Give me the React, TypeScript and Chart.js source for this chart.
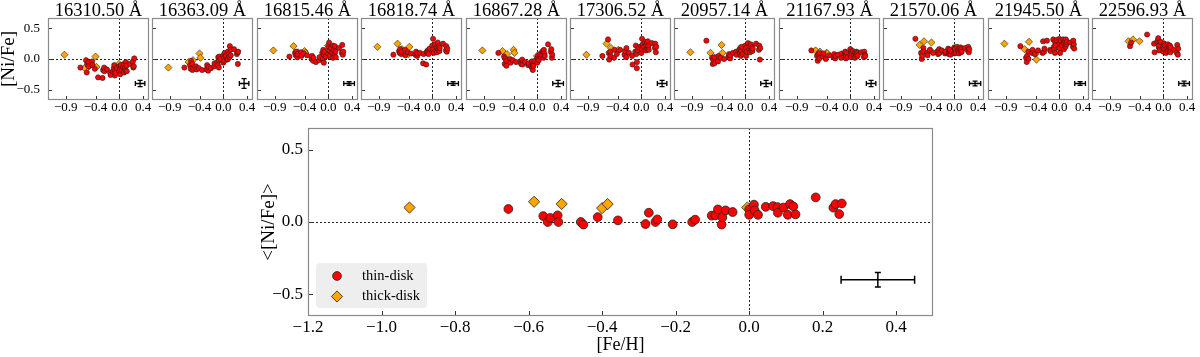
import React, { useEffect, useRef } from 'react';
import { Chart, registerables } from 'chart.js';

Chart.register(...registerables);

const SERIF = '"Liberation Serif", "Times New Roman", Times, serif';

// ---------------- data ----------------
const lineTitles = [
  '16310.50 Å', '16363.09 Å', '16815.46 Å', '16818.74 Å', '16867.28 Å', '17306.52 Å',
  '20957.14 Å', '21167.93 Å', '21570.06 Å', '21945.50 Å', '22596.93 Å',
];

// [Fe/H] of the thin-disk and thick-disk stars
const thinFeH = [
  -0.655, -0.56, -0.548, -0.541, -0.521, -0.519, -0.458, -0.451, -0.412, -0.357,
  -0.282, -0.273, -0.255, -0.25, -0.208, -0.155, -0.147, -0.102, -0.092, -0.085,
  -0.075, -0.073, -0.064, -0.045, 0.0, 0.0, 0.013, 0.015, 0.024, 0.045,
  0.065, 0.077, 0.078, 0.093, 0.105, 0.111, 0.12, 0.126, 0.181, 0.229,
  0.235, 0.245, 0.252,
];
const thickFeH = [-0.924, -0.585, -0.51, -0.4, -0.385, -0.005];

// mean <[Ni/Fe]>
const thinMeanNiFe = [
  0.09, 0.041, 0.0, 0.028, 0.046, 0.0, 0.0, -0.018, 0.034, 0.011,
  -0.014, 0.064, 0.0, 0.018, -0.016, 0.0, 0.016, 0.044, 0.046, 0.087,
  -0.018, 0.032, 0.08, 0.069, 0.087, 0.05, 0.12, 0.08, 0.05, 0.105,
  0.11, 0.103, 0.064, 0.1, 0.05, 0.124, 0.108, 0.053, 0.17, 0.099,
  0.124, 0.055, 0.128,
];
const thickMeanNiFe = [0.1, 0.14, 0.125, 0.096, 0.124, 0.1];

// per-line [Ni/Fe]
const thin16310 = [
  -0.14, -0.02, -0.22, -0.08, -0.05, -0.12, -0.04, -0.1, -0.16, -0.3,
  -0.31, -0.18, -0.14, -0.2, -0.17, -0.22, -0.26, -0.2, -0.15, -0.1,
  -0.27, -0.19, -0.23, -0.15, -0.2, -0.12, -0.17, -0.25, -0.1, -0.18,
  -0.13, -0.22, -0.08, -0.15, -0.19, -0.05, -0.11, -0.2, -0.08, -0.04,
  -0.14, -0.12, 0.01,
];
const thick16310 = [0.07, -0.15, -0.12, 0.04, -0.13, -0.08];

const thin16363 = [
  -0.14, -0.1, -0.16, -0.03, -0.08, -0.18, -0.12, -0.17, -0.15, -0.18,
  -0.17, -0.1, -0.19, -0.13, -0.15, -0.12, -0.07, -0.05, -0.1, 0.03,
  -0.14, -0.02, 0.04, 0.0, -0.06, 0.06, 0.02, -0.03, 0.1, 0.05,
  -0.01, 0.12, 0.0, 0.08, 0.03, 0.21, 0.15, 0.06, 0.16, 0.08,
  0.11, -0.08, 0.12,
];
const thick16363 = [-0.14, -0.05, -0.02, 0.09, 0.02, 0.0];

const thin16815 = [
  0.04, 0.1, 0.06, 0.12, 0.03, 0.08, 0.11, 0.05, 0.09, 0.06,
  0.0, 0.05, -0.03, 0.02, -0.05, -0.02, 0.03, 0.1, 0.0, 0.15,
  -0.06, 0.07, 0.12, 0.04, 0.2, 0.09, 0.27, 0.14, 0.05, 0.18,
  0.1, 0.22, 0.02, 0.15, 0.08, 0.21, 0.12, 0.03, 0.18, 0.1,
  0.23, 0.07, 0.12,
];
const thick16815 = [0.14, 0.21, 0.11, 0.13, 0.1, 0.22];

const thin16818 = [
  0.07, 0.13, 0.1, 0.16, 0.08, 0.12, 0.15, 0.06, 0.11, 0.09,
  0.07, 0.12, 0.05, 0.09, 0.1, -0.07, 0.08, -0.09, 0.12, 0.1,
  0.14, 0.11, 0.08, 0.17, 0.22, 0.12, 0.33, 0.16, 0.1, 0.24,
  0.14, 0.19, 0.11, 0.27, 0.15, 0.21, 0.13, 0.18, 0.25, 0.14,
  0.21, 0.12, 0.17,
];
const thick16818 = [0.2, 0.25, 0.16, 0.08, 0.2, 0.18];

const thin16867 = [
  0.1, 0.04, -0.08, 0.01, -0.03, -0.11, 0.0, -0.06, -0.02, -0.05,
  -0.04, -0.08, -0.01, -0.09, -0.05, -0.1, -0.07, -0.12, -0.04, -0.15,
  -0.18, -0.08, -0.11, -0.03, 0.02, -0.06, 0.05, 0.0, -0.02, 0.08,
  0.03, 0.11, 0.06, 0.13, 0.02, 0.15, 0.09, 0.05, 0.24, 0.12,
  0.16, 0.02, 0.07,
];
const thick16867 = [0.14, 0.13, 0.08, 0.15, 0.1, 0.05];

const thin17306 = [
  0.05, 0.32, 0.1, -0.01, 0.05, 0.12, 0.02, 0.15, 0.08, 0.15,
  0.07, 0.13, 0.03, 0.18, 0.1, 0.05, -0.09, 0.12, 0.22, 0.08,
  -0.15, -0.05, 0.14, 0.19, 0.21, 0.1, 0.33, 0.16, 0.24, 0.2,
  0.28, 0.14, 0.22, 0.26, 0.17, 0.29, 0.21, 0.15, 0.26, 0.18,
  0.25, 0.11, 0.2,
];
const thick17306 = [0.07, 0.25, 0.18, 0.13, 0.15, 0.2];

const thin20957 = [
  0.3, 0.02, -0.08, -0.01, 0.03, -0.07, -0.04, 0.05, 0.02, 0.0,
  0.04, 0.08, 0.01, 0.06, 0.1, 0.12, 0.07, 0.15, 0.1, 0.18,
  0.05, 0.13, 0.2, 0.08, 0.22, 0.14, 0.18, 0.05, 0.12, 0.26,
  0.16, 0.21, 0.11, 0.24, 0.14, 0.19, 0.13, 0.17, 0.25, 0.15,
  0.22, -0.01, 0.18,
];
const thick20957 = [0.11, 0.1, 0.0, 0.23, 0.1, 0.15];

const thin21167 = [
  0.14, 0.05, -0.03, 0.08, 0.01, 0.1, 0.04, 0.09, 0.0, 0.06,
  0.03, 0.08, 0.01, 0.05, 0.07, 0.02, 0.09, 0.04, 0.08, 0.12,
  0.01, 0.06, 0.1, 0.03, 0.16, 0.07, 0.12, 0.03, 0.09, 0.13,
  0.05, 0.1, 0.02, 0.08, 0.12, 0.04, 0.1, 0.06, 0.11, 0.03,
  0.12, 0.07, 0.05,
];
const thick21167 = [null, 0.14, 0.12, 0.1, 0.09, 0.08];

const thin21570 = [
  0.33, 0.1, 0.0, 0.05, 0.18, 0.12, 0.1, 0.06, 0.15, 0.1,
  0.13, 0.08, 0.16, 0.1, 0.14, 0.09, 0.12, 0.17, 0.08, 0.13,
  0.1, 0.15, 0.07, 0.12, 0.19, 0.09, 0.14, 0.17, 0.1, 0.2,
  0.13, 0.17, 0.09, 0.15, 0.19, 0.11, 0.16, 0.12, 0.18, 0.14,
  0.2, 0.11, 0.16,
];
const thick21570 = [null, 0.23, 0.29, 0.14, 0.27, 0.16];

const thin21945 = [
  0.21, 0.02, -0.05, 0.05, 0.12, 0.0, 0.1, 0.15, 0.08, 0.14,
  0.1, 0.29, 0.12, 0.17, 0.3, 0.15, 0.13, 0.32, 0.2, 0.16,
  0.28, 0.1, 0.22, 0.31, 0.33, 0.18, 0.25, 0.1, 0.3, 0.22,
  0.32, 0.16, 0.26, 0.29, 0.2, 0.32, 0.24, 0.28, 0.27, 0.2,
  0.3, 0.24, 0.17,
];
const thick21945 = [0.25, 0.16, 0.28, 0.08, -0.01, 0.12];

const thin22596 = [
  null, 0.21, null, 0.27, null, null, null, null, null, null,
  null, 0.4, null, null, null, 0.25, 0.11, 0.28, 0.3, 0.34,
  0.19, 0.22, 0.14, 0.28, 0.2, 0.12, 0.25, 0.17, 0.22, 0.1,
  0.18, 0.24, 0.13, 0.2, 0.15, 0.22, 0.11, 0.19, 0.15, 0.1,
  0.23, 0.07, 0.17,
];
const thick22596 = [null, 0.29, 0.32, 0.29, null, 0.26];

const thinPerLine = [thin16310, thin16363, thin16815, thin16818, thin16867, thin17306, thin20957, thin21167, thin21570, thin21945, thin22596];
const thickPerLine = [thick16310, thick16363, thick16815, thick16818, thick16867, thick17306, thick20957, thick21167, thick21570, thick21945, thick22596];

// typical error bars
const errCenter = [0.35, -0.4];
const errXPerLine = [0.08, 0.08, 0.09, 0.09, 0.09, 0.08, 0.09, 0.08, 0.095, 0.09, 0.09];
const errYPerLine = [0.05, 0.08, 0.03, 0.03, 0.05, 0.05, 0.05, 0.05, 0.04, 0.03, 0.04];
const errMean = [0.1, 0.05];

// ticks
const topXTicks = [-0.9, -0.4, 0.0, 0.4];
const topYTicks = [-0.5, 0.0, 0.5];
const mainXTicks = [-1.2, -1.0, -0.8, -0.6, -0.4, -0.2, 0.0, 0.2, 0.4];
const mainYTicks = [-0.5, 0.0, 0.5];

const legendLabels = ['thin-disk', 'thick-disk'];
const THIN_COLOR = '#ff0000';
const THICK_COLOR = '#ffa500';

// ---------------- helpers ----------------
function fmt(v: number): string {
  const s = Number(v).toFixed(1);
  if (s === '-0.0') return '0.0';
  return s.replace('-', '\u2212');
}

function pts(xs: number[], ys: (number | null)[]) {
  const out: { x: number; y: number }[] = [];
  xs.forEach((x, i) => {
    const y = ys[i];
    if (y !== null && y !== undefined) out.push({ x, y });
  });
  return out;
}

type Spec = {
  cx: number; cy: number; cw: number; ch: number;
  padLeft: number; padRight: number; padTop: number;
  yW: number; xH: number;
  xMin: number; xMax: number; yMin: number; yMax: number;
  xTicks: number[]; yTicks: number[];
  showY: boolean;
  tickSize: number; xTickPad: number; yTickPad: number;
  xTitle?: string; xTitleSize?: number; xTitlePad?: number;
  yTitle?: string; yTitleSize?: number; yTitlePad?: number;
  thin: { x: number; y: number }[];
  thick: { x: number; y: number }[];
  circleR: number; diamondR: number; borderW: number;
  err: { ex: number; ey: number; capX: number; capY: number; lw: number };
  title?: string;
  legend?: boolean;
  tickLen: number;
};

const specs: Spec[] = [];

for (let i = 0; i < 11; i++) {
  const panelLeft = Math.round(48 + i * 104.4);
  specs.push({
    cx: panelLeft - 48, cy: 0, cw: 165, ch: 122,
    padLeft: i === 0 ? 0 : 48, padRight: 16, padTop: 18,
    yW: i === 0 ? 48 : 0, xH: 22,
    xMin: -1.2, xMax: 0.5, yMin: -0.67, yMax: 0.67,
    xTicks: topXTicks, yTicks: topYTicks,
    showY: i === 0,
    tickSize: 13, xTickPad: 0, yTickPad: 8,
    yTitle: i === 0 ? '[Ni/Fe]' : undefined, yTitleSize: 19, yTitlePad: 0,
    thin: pts(thinFeH, thinPerLine[i]),
    thick: pts(thickFeH, thickPerLine[i]),
    circleR: 2.6, diamondR: 3.6, borderW: 0.6,
    err: { ex: errXPerLine[i], ey: errYPerLine[i], capX: 2.5, capY: 2.5, lw: 1.3 },
    title: lineTitles[i],
    tickLen: 4,
  });
}

specs.push({
  cx: 240, cy: 120, cw: 720, ch: 237,
  padLeft: 0, padRight: 27, padTop: 8,
  yW: 68, xH: 41,
  xMin: -1.2, xMax: 0.5, yMin: -0.65, yMax: 0.65,
  xTicks: mainXTicks, yTicks: mainYTicks,
  showY: true,
  tickSize: 17, xTickPad: 1, yTickPad: 5,
  xTitle: '[Fe/H]', xTitleSize: 18, xTitlePad: 3,
  yTitle: '<[Ni/Fe]>', yTitleSize: 19, yTitlePad: 20,
  thin: pts(thinFeH, thinMeanNiFe),
  thick: pts(thickFeH, thickMeanNiFe),
  circleR: 4.4, diamondR: 5.6, borderW: 0.8,
  err: { ex: errMean[0], ey: errMean[1], capX: 4, capY: 3, lw: 1.5 },
  legend: true,
  tickLen: 5,
});

function makeChart(canvas: HTMLCanvasElement, s: Spec) {
  const decor = {
    id: 'decor',
    beforeDatasetsDraw(chart: any) {
      const { ctx, chartArea: a, scales } = chart;
      const x0 = Math.round(scales.x.getPixelForValue(0)) + 0.5;
      const y0 = Math.round(scales.y.getPixelForValue(0)) + 0.5;
      ctx.save();
      ctx.strokeStyle = '#222';
      ctx.lineWidth = 1;
      ctx.setLineDash([2, 2]);
      ctx.beginPath();
      ctx.moveTo(x0, a.top);
      ctx.lineTo(x0, a.bottom);
      ctx.moveTo(a.left, y0);
      ctx.lineTo(a.right, y0);
      ctx.stroke();
      ctx.restore();
    },
    afterDatasetsDraw(chart: any) {
      const { ctx, chartArea: a, scales } = chart;
      const xs = scales.x, ys = scales.y;
      ctx.save();
      // error bar
      const cx = xs.getPixelForValue(errCenter[0]);
      const cy = ys.getPixelForValue(errCenter[1]);
      const xl = xs.getPixelForValue(errCenter[0] - s.err.ex);
      const xr = xs.getPixelForValue(errCenter[0] + s.err.ex);
      const yt = ys.getPixelForValue(errCenter[1] + s.err.ey);
      const yb = ys.getPixelForValue(errCenter[1] - s.err.ey);
      ctx.strokeStyle = '#000';
      ctx.lineWidth = s.err.lw;
      ctx.beginPath();
      ctx.moveTo(xl, cy); ctx.lineTo(xr, cy);
      ctx.moveTo(cx, yt); ctx.lineTo(cx, yb);
      ctx.moveTo(xl, cy - s.err.capX); ctx.lineTo(xl, cy + s.err.capX);
      ctx.moveTo(xr, cy - s.err.capX); ctx.lineTo(xr, cy + s.err.capX);
      ctx.moveTo(cx - s.err.capY, yt); ctx.lineTo(cx + s.err.capY, yt);
      ctx.moveTo(cx - s.err.capY, yb); ctx.lineTo(cx + s.err.capY, yb);
      ctx.stroke();

      // inward ticks
      ctx.strokeStyle = '#333';
      ctx.lineWidth = 1;
      ctx.beginPath();
      s.xTicks.forEach((v) => {
        const px = Math.round(xs.getPixelForValue(v)) + 0.5;
        ctx.moveTo(px, a.bottom);
        ctx.lineTo(px, a.bottom - s.tickLen);
      });
      s.yTicks.forEach((v) => {
        const py = Math.round(ys.getPixelForValue(v)) + 0.5;
        ctx.moveTo(a.left, py);
        ctx.lineTo(a.left + s.tickLen, py);
      });
      ctx.stroke();

      // frame
      ctx.strokeStyle = '#8a8a8a';
      ctx.lineWidth = 1.2;
      ctx.strokeRect(a.left + 0.5, a.top + 0.5, a.right - a.left - 1, a.bottom - a.top - 1);

      // panel title
      if (s.title) {
        ctx.fillStyle = '#000';
        ctx.font = `18.5px ${SERIF}`;
        ctx.textAlign = 'center';
        ctx.textBaseline = 'alphabetic';
        ctx.fillText(s.title, (a.left + a.right) / 2, a.top - 2);
      }

      // legend
      if (s.legend) {
        const lx = a.left + 8, lw = 111, lh = 45;
        const ly = a.bottom - 8 - lh;
        ctx.fillStyle = 'rgba(236,236,236,0.9)';
        ctx.beginPath();
        const r = 4;
        ctx.moveTo(lx + r, ly);
        ctx.lineTo(lx + lw - r, ly);
        ctx.quadraticCurveTo(lx + lw, ly, lx + lw, ly + r);
        ctx.lineTo(lx + lw, ly + lh - r);
        ctx.quadraticCurveTo(lx + lw, ly + lh, lx + lw - r, ly + lh);
        ctx.lineTo(lx + r, ly + lh);
        ctx.quadraticCurveTo(lx, ly + lh, lx, ly + lh - r);
        ctx.lineTo(lx, ly + r);
        ctx.quadraticCurveTo(lx, ly, lx + r, ly);
        ctx.closePath();
        ctx.fill();
        const mx = lx + 21;
        const my1 = ly + 13, my2 = ly + 33.5;
        ctx.lineWidth = s.borderW;
        ctx.strokeStyle = '#222';
        ctx.fillStyle = THIN_COLOR;
        ctx.beginPath();
        ctx.arc(mx, my1, s.circleR, 0, Math.PI * 2);
        ctx.fill();
        ctx.stroke();
        ctx.fillStyle = THICK_COLOR;
        const d = s.diamondR;
        ctx.beginPath();
        ctx.moveTo(mx, my2 - d);
        ctx.lineTo(mx + d, my2);
        ctx.lineTo(mx, my2 + d);
        ctx.lineTo(mx - d, my2);
        ctx.closePath();
        ctx.fill();
        ctx.stroke();
        ctx.fillStyle = '#000';
        ctx.font = `14.5px ${SERIF}`;
        ctx.textAlign = 'left';
        ctx.textBaseline = 'middle';
        ctx.fillText(legendLabels[0], lx + 46, my1);
        ctx.fillText(legendLabels[1], lx + 46, my2);
      }
      ctx.restore();
    },
  };

  return new Chart(canvas, {
    type: 'scatter',
    data: {
      datasets: [
        {
          label: legendLabels[0],
          data: s.thin,
          pointStyle: 'circle',
          pointRadius: s.circleR,
          backgroundColor: THIN_COLOR,
          borderColor: '#222',
          borderWidth: s.borderW,
        },
        {
          label: legendLabels[1],
          data: s.thick,
          pointStyle: 'rectRot',
          pointRadius: s.diamondR,
          backgroundColor: THICK_COLOR,
          borderColor: '#222',
          borderWidth: s.borderW,
        },
      ],
    },
    options: {
      responsive: false,
      maintainAspectRatio: false,
      animation: false,
      events: [],
      devicePixelRatio: 1,
      layout: { padding: { left: s.padLeft, right: s.padRight, top: s.padTop, bottom: 0 } },
      plugins: { legend: { display: false }, tooltip: { enabled: false }, title: { display: false } },
      scales: {
        x: {
          type: 'linear',
          position: 'bottom',
          min: s.xMin,
          max: s.xMax,
          afterBuildTicks: (sc: any) => { sc.ticks = s.xTicks.map((v) => ({ value: v })); },
          afterFit: (sc: any) => {
            sc.height = s.xH;
            sc.paddingLeft = 0; sc.paddingRight = 0; sc.paddingTop = 0; sc.paddingBottom = 0;
          },
          grid: { display: false, drawTicks: false },
          border: { display: false },
          ticks: {
            autoSkip: false, maxRotation: 0, minRotation: 0, padding: s.xTickPad, color: '#000',
            font: { family: SERIF, size: s.tickSize },
            callback: (v: any) => fmt(Number(v)),
          },
          title: s.xTitle
            ? { display: true, text: s.xTitle, color: '#000', font: { family: SERIF, size: s.xTitleSize, lineHeight: 1 }, padding: { top: 0, bottom: s.xTitlePad } }
            : { display: false },
        },
        y: {
          type: 'linear',
          position: 'left',
          min: s.yMin,
          max: s.yMax,
          afterBuildTicks: (sc: any) => { sc.ticks = s.yTicks.map((v) => ({ value: v })); },
          afterFit: (sc: any) => {
            sc.width = s.yW;
            sc.paddingLeft = 0; sc.paddingRight = 0; sc.paddingTop = 0; sc.paddingBottom = 0;
          },
          grid: { display: false, drawTicks: false },
          border: { display: false },
          ticks: {
            display: s.showY, autoSkip: false, padding: s.yTickPad, color: '#000',
            font: { family: SERIF, size: s.tickSize },
            callback: (v: any) => fmt(Number(v)),
          },
          title: s.yTitle
            ? { display: true, text: s.yTitle, color: '#000', font: { family: SERIF, size: s.yTitleSize, lineHeight: 1 }, padding: { top: s.yTitlePad, bottom: 0 } }
            : { display: false },
        },
      },
    },
    plugins: [decor],
  } as any);
}

export default function App() {
  const refs = useRef<(HTMLCanvasElement | null)[]>([]);
  useEffect(() => {
    const charts = specs.map((s, i) => makeChart(refs.current[i] as HTMLCanvasElement, s));
    return () => { charts.forEach((c) => c.destroy()); };
  }, []);
  return (
    <div style={{ position: 'absolute', left: 0, top: 0, width: 1200, height: 357, overflow: 'hidden', background: '#fff' }}>
      {specs.map((s, i) => (
        <canvas
          key={i}
          ref={(el) => { refs.current[i] = el; }}
          width={s.cw}
          height={s.ch}
          style={{ position: 'absolute', left: s.cx, top: s.cy, width: s.cw, height: s.ch }}
        />
      ))}
    </div>
  );
}
